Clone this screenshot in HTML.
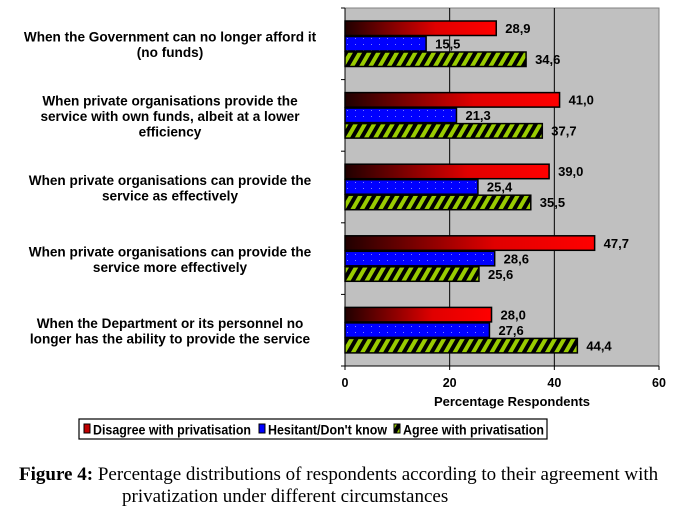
<!DOCTYPE html>
<html><head><meta charset="utf-8"><style>
body{margin:0;background:#fff;width:682px;height:516px;overflow:hidden;font-family:"Liberation Sans",sans-serif}
.cap{position:absolute;font-family:"Liberation Serif",serif;font-size:19px;line-height:22px;color:#000;white-space:nowrap}
</style></head><body>
<svg id="chart" width="682" height="460" style="position:absolute;left:0;top:0">
<defs>
<linearGradient id="gr" x1="0" x2="1" y1="0" y2="0"><stop offset="0" stop-color="#200000"/><stop offset="0.6" stop-color="#e00000"/><stop offset="1" stop-color="#ff0000"/></linearGradient>
<pattern id="pb" width="8" height="6" patternUnits="userSpaceOnUse"><rect width="8" height="6" fill="#0000ff"/><rect x="3" y="2" width="1" height="1" fill="#8080ff"/></pattern>
<pattern id="pg" width="8" height="8" patternUnits="userSpaceOnUse" patternTransform="rotate(30)"><rect width="8" height="8" fill="#000"/><rect width="4" height="8" fill="#99cc00"/></pattern>
</defs>
</svg>
<div class="cap" style="left:19px;top:464px"><b>Figure 4:</b> Percentage distributions of respondents according to their agreement with</div>
<div class="cap" style="left:122px;top:486px">privatization under different circumstances</div>
<script>
const categories=[["When the Government can no longer afford it","(no funds)"],["When private organisations provide the","service with own funds, albeit at a lower","efficiency"],["When private organisations can provide the","service as effectively"],["When private organisations can provide the","service more effectively"],["When the Department or its personnel no","longer has  the ability to provide the service"]];
const disagree=[28.9,41.0,39.0,47.7,28.0];
const hesitant=[15.5,21.3,25.4,28.6,27.6];
const agree=[34.6,37.7,35.5,25.6,44.4];
const xTicks=[0,20,40,60];
const seriesNames=["Disagree with privatisation","Hesitant/Don't know","Agree with privatisation"];
const svg=document.getElementById('chart');const NS='http://www.w3.org/2000/svg';
const L=345,R=659,T=8,B=366;
const x=v=>L+(v-0)/60*(R-L);
const gH=(B-T)/categories.length;
function mk(t,a,p){const e=document.createElementNS(NS,t);for(const k in a)e.setAttribute(k,a[k]);(p||svg).appendChild(e);return e;}
const bg=mk('rect',{x:L,y:T,width:R-L,height:B-T,fill:'#c0c0c0',stroke:'#808080'});


xTicks.forEach(t=>{
 if(t>0&&t<60){const g=mk('line',{x1:x(t),x2:x(t),y1:T,y2:B,stroke:'#000','stroke-width':1});
 
 }
 mk('line',{x1:x(t),x2:x(t),y1:B,y2:B+4,stroke:'#000'});
 const tx=mk('text',{x:x(t),y:B+21,'text-anchor':'middle','font-size':12.5,'font-weight':'bold'});tx.textContent=t;
 
 
});
mk('line',{x1:L,x2:R,y1:B,y2:B,stroke:'#000'});
mk('line',{x1:L,x2:L,y1:T,y2:B,stroke:'#000'});
for(let i=0;i<=categories.length;i++)mk('line',{x1:L-4,x2:L,y1:T+i*gH,y2:T+i*gH,stroke:'#000'});
const fills=['url(#gr)','url(#pb)','url(#pg)'];const series=[disagree,hesitant,agree];const names=['bar-disagree','bar-hesitant','bar-agree'];
categories.forEach((c,i)=>{
 const g0=T+i*gH;const bh=15.5;const top=g0+13;
 series.forEach((s,j)=>{
  const y=top+j*bh;
  const r=mk('rect',{x:L,y:y,width:x(s[i])-L,height:bh-1,fill:fills[j],stroke:'#000','stroke-width':1.5});
  
  
  const t=mk('text',{x:x(s[i])+9,y:y+12,'font-size':13,'font-weight':'bold'});t.textContent=s[i].toFixed(1).replace('.',',');
  
  
 });
 const lh=15.5,n=c.length,cy=g0+gH/2+1;
 c.forEach((line,k)=>{const t=mk('text',{x:170,y:cy-(n-1)*lh/2+k*lh+4.5,'text-anchor':'middle','font-size':13.6,'font-weight':'bold'});t.textContent=line;
 
 });
});
const xt=mk('text',{x:(L+R)/2+10,y:B+40,'text-anchor':'middle','font-size':13,'font-weight':'bold'});xt.textContent='Percentage Respondents';


const lg=mk('g',{});


mk('rect',{x:79,y:419,width:468,height:20,fill:'#fff',stroke:'#000','stroke-width':1.2},lg);
const lx=[84,259,394];const lw=[158,119,141];const sw=['#c00000','#0000ff','#99cc00'];
seriesNames.forEach((n,j)=>{
 mk('rect',{x:lx[j],y:424,width:6,height:9,fill:j==2?'url(#pg)':sw[j],stroke:'#000'},lg);
 const t=mk('text',{x:lx[j]+9,y:434.5,'font-size':14,'font-weight':'bold',textLength:lw[j],lengthAdjust:'spacingAndGlyphs'},lg);t.textContent=n;
 
 
});
</script>
</body></html>
